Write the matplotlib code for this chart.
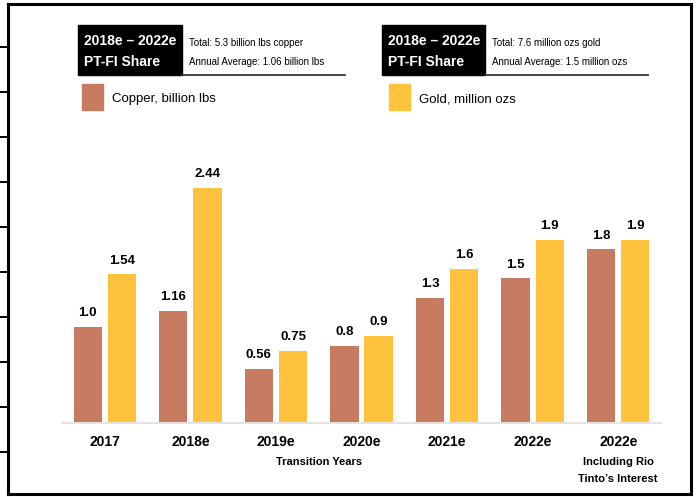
import numpy as np
import matplotlib
matplotlib.use("Agg")
import matplotlib.pyplot as plt
from matplotlib.patches import Rectangle
from matplotlib.lines import Line2D

plt.rcParams["font.family"] = ["Liberation Sans", "DejaVu Sans"]

# production by period
periods = ["2017", "2018e", "2019e", "2020e", "2021e", "2022e", "2022e"]
copper = [1.0, 1.16, 0.56, 0.8, 1.3, 1.5, 1.8]
gold = [1.54, 2.44, 0.75, 0.9, 1.6, 1.9, 1.9]
copper_labels = ["1.0", "1.16", "0.56", "0.8", "1.3", "1.5", "1.8"]
gold_labels = ["1.54", "2.44", "0.75", "0.9", "1.6", "1.9", "1.9"]

copper_note = ["Total: 5.3 billion lbs copper", "Annual Average: 1.06 billion lbs"]
gold_note = ["Total: 7.6 million ozs gold", "Annual Average: 1.5 million ozs"]

COPPER = "#C77B60"
GOLD = "#FFC23C"

W, H = 696, 497
fig = plt.figure(figsize=(W / 100, H / 100), dpi=100)


def fx(px):
    return px / W


def fy(py):
    return 1 - py / H


# outer frame with ticks on the left edge
frame = fig.add_axes([fx(8), fy(494), fx(691) - fx(8), fy(4) - fy(494)])
frame.set_xlim(0, 1)
frame.set_ylim(494, 4)
frame.set_xticks([])
frame.set_yticks(np.arange(47, 453, 45))
frame.set_yticklabels([])
frame.tick_params(axis="y", direction="out", length=8, width=1.4, color="black")
for s in frame.spines.values():
    s.set_linewidth(2.2)
    s.set_color("black")
frame.patch.set_visible(False)

# bar chart
ax = fig.add_axes([fx(62), fy(423), fx(661) - fx(62), fy(150) - fy(423)])
x = np.arange(len(periods))
w = 0.33
off = 0.2
scale_top = (423 - 150) / 96.5
ax.bar(x - off, copper, w, color=COPPER)
ax.bar(x + off, gold, w, color=GOLD)
ax.set_xlim(-0.5, len(periods) - 0.5)
ax.set_ylim(0, scale_top)
for s in ["top", "right", "left"]:
    ax.spines[s].set_visible(False)
ax.spines["bottom"].set_color("#E3E3E3")
ax.spines["bottom"].set_linewidth(1.5)
ax.set_yticks([])
ax.set_xticks(x)
ax.set_xticklabels(periods, fontsize=10, fontweight="bold")
ax.tick_params(axis="x", length=0, pad=9)
ax.patch.set_visible(False)

for xi, v, t in zip(x, copper, copper_labels):
    ax.text(xi - off, v + 0.08, t, ha="center", va="bottom", fontsize=9.5, fontweight="bold")
for xi, v, t in zip(x, gold, gold_labels):
    ax.text(xi + off, v + 0.08, t, ha="center", va="bottom", fontsize=9.5, fontweight="bold")

# sub-captions under the category labels
fig.text(fx(319), fy(462), "Transition Years", ha="center", va="center",
         fontsize=8, fontweight="bold")
fig.text(fx(618), fy(462), "Including Rio", ha="center", va="center",
         fontsize=8, fontweight="bold")
fig.text(fx(618), fy(479), "Tinto\u2019s Interest", ha="center", va="center",
         fontsize=8, fontweight="bold")


def header(x0, x1, line_end, notes, swatch_x, color, label):
    fig.patches.append(Rectangle((fx(x0), fy(75)), fx(x1) - fx(x0), fy(25) - fy(75),
                                 transform=fig.transFigure, color="black"))
    fig.lines.append(Line2D([fx(x1), fx(line_end)], [fy(75), fy(75)],
                            transform=fig.transFigure, color="#333333", lw=1.3))
    fig.text(fx(x0 + 6), fy(41), "2018e \u2013 2022e", color="white",
             fontsize=10, fontweight="bold", va="center")
    fig.text(fx(x0 + 6), fy(62), "PT-FI Share", color="white",
             fontsize=10, fontweight="bold", va="center")
    fig.text(fx(x1 + 7), fy(43), notes[0], fontsize=7, va="center")
    fig.text(fx(x1 + 7), fy(62), notes[1], fontsize=7, va="center")
    fig.patches.append(Rectangle((fx(swatch_x), fy(110)), fx(21), fy(84) - fy(110),
                                 transform=fig.transFigure, color=color))
    fig.text(fx(swatch_x + 30), fy(99), label, fontsize=9.5, va="center")


header(78, 182, 345, copper_note, 82, COPPER, "Copper, billion lbs")
header(382, 485, 648, gold_note, 389, GOLD, "Gold, million ozs")

fig.savefig("out.png", dpi=100)
